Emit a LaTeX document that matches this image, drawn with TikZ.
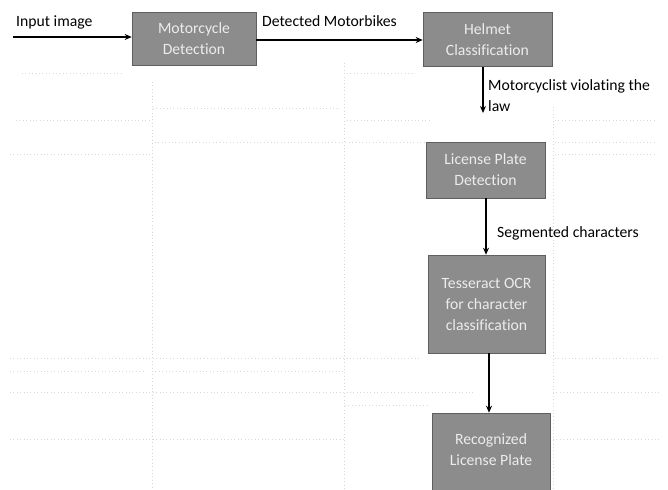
\documentclass[tikz,border=0pt]{standalone}
\usepackage{fontspec}
\setmainfont{Carlito}[Ligatures={NoCommon}]
\usetikzlibrary{arrows.meta}
\definecolor{boxgray}{RGB}{140,140,140}
\definecolor{boxline}{RGB}{95,95,95}
\definecolor{boxtext}{RGB}{236,236,236}
\definecolor{cellgray}{RGB}{215,215,215}
\tikzset{
  stage/.style={draw=boxline, line width=0.6pt, fill=boxgray, text=boxtext, align=center, inner sep=0pt},
  flow/.style={line width=1.1pt, -{Stealth[length=7pt,width=6pt]}},
  cell/.style={draw=cellgray, line width=0.8pt, dash pattern=on 0.8pt off 2.6pt}
}
\begin{document}
\begin{tikzpicture}[x=1pt,y=1pt,yscale=-1,xscale=1,font=\fontsize{15.7}{21}\selectfont]
\useasboundingbox (0,0) rectangle (668,489);

%cell grid (faint)
\draw [cell] (152,82) -- (152,489);
\draw [cell] (344,63) -- (344,489);
\draw [cell] (553,107) -- (553,489);
\draw [cell] (22,73) -- (123,73);
\draw [cell] (347,73) -- (415,73);
\draw [cell] (153,108) -- (340,108);
\draw [cell] (16,120) -- (150,120);
\draw [cell] (347,120) -- (430,120);
\draw [cell] (555,120) -- (655,120);
\draw [cell] (155,142) -- (425,142);
\draw [cell] (555,142) -- (655,142);
\draw [cell] (10,154) -- (150,154);
\draw [cell] (555,154) -- (655,154);
\draw [cell] (10,358) -- (420,358);
\draw [cell] (555,358) -- (660,358);
\draw [cell] (10,371) -- (145,371);
\draw [cell] (152,371) -- (344,371);
\draw [cell] (10,392) -- (473,392);
\draw [cell] (553,392) -- (660,392);
\draw [cell] (345,405) -- (428,405);
\draw [cell] (10,439) -- (344,439);
\draw [cell] (553,439) -- (660,439);

%Stages
\node [stage, minimum width=124, minimum height=53] (md) at (194,39) {Motorcycle\\Detection};
\node [stage, minimum width=129, minimum height=54] (hc) at (487.5,39.5) {Helmet\\Classification};
\node [stage, minimum width=119, minimum height=56] (lpd) at (485.5,170) {License Plate\\Detection};
\node [stage, minimum width=117, minimum height=98] (ocr) at (486.5,304) {Tesseract OCR\\for character\\classification};
\node [stage, minimum width=118, minimum height=82] (rlp) at (491,454) {Recognized\\License Plate\\[-12pt]};

%Input
\coordinate (inp) at (13,37);
\draw [flow] (inp) -- (inp -| md.west);
\node [anchor=west, inner sep=0pt] (inplbl) at (16,22) {Input image};

%Detected motorbikes
\draw [flow] (md.east |- 0,40) -- (hc.west |- 0,40);
\node [anchor=west, inner sep=0pt] (detlbl) at (262,21) {Detected Motorbikes};

%Violators
\coordinate (viol) at (483,113);
\draw [flow] (hc.south -| viol) -- (viol);
\node [anchor=west, align=left, inner sep=0pt] (viollbl) at (488,96) {Motorcyclist violating the\\law};

%Segmented characters
\draw [flow] (lpd.south -| 486,0) -- (ocr.north -| 486,0);
\node [anchor=west, inner sep=0pt] (seglbl) at (497,233) {Segmented characters};

%Recognized plate
\draw [flow] (ocr.south -| 489,0) -- (rlp.north -| 489,0);

\end{tikzpicture}
\end{document}
